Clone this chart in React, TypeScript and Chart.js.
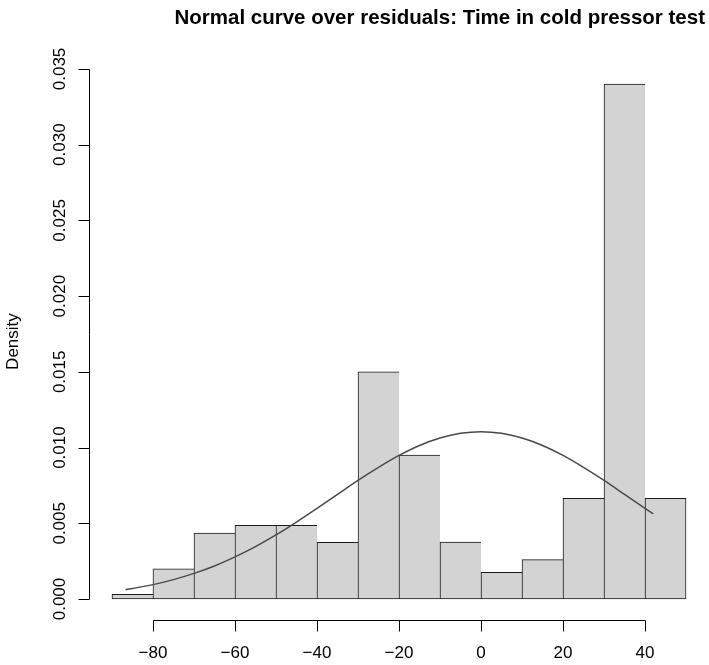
import React, { useEffect, useRef } from "react";
import { Chart, registerables } from "chart.js";

Chart.register(...registerables);

// Histogram bins (left edges), bin width 10
const binStarts = [-90, -80, -70, -60, -50, -40, -30, -20, -10, 0, 10, 20, 30, 40];
const densities = [0.00031, 0.002, 0.00436, 0.00487, 0.00487, 0.00374, 0.015, 0.00951, 0.00376, 0.00176, 0.0026, 0.00665, 0.034, 0.00665];
const binWidth = 10;

// Normal curve
const curveX = [-86.7, -85, -80, -75, -70, -65, -60, -55, -50, -45, -40, -35, -30, -25, -20, -15, -10, -5, 0, 5, 10, 15, 20, 25, 30, 35, 40, 42];
const curveY = [0.00062, 0.00069, 0.00095, 0.00128, 0.00169, 0.00218, 0.00278, 0.00346, 0.00423, 0.00508, 0.00598, 0.00691, 0.00783, 0.00869, 0.00948, 0.01014, 0.01063, 0.01094, 0.01105, 0.01094, 0.01063, 0.01014, 0.00948, 0.00869, 0.00783, 0.00691, 0.00598, 0.00562];

const xTicks = [-80, -60, -40, -20, 0, 20, 40];
const xTickLabels = ["\u221280", "\u221260", "\u221240", "\u221220", "0", "20", "40"];
const yTicks = [0, 0.005, 0.01, 0.015, 0.02, 0.025, 0.03, 0.035];
const yTickLabels = ["0.000", "0.005", "0.010", "0.015", "0.020", "0.025", "0.030", "0.035"];

const titleText = "Normal curve over residuals: Time in cold pressor test";
const yAxisTitle = "Density";

const FONT = '"Liberation Sans", Arial, sans-serif';

const rAxesPlugin = {
  id: "rAxes",
  afterDraw(chart: any) {
    const { ctx, scales, chartArea } = chart;
    const xs = scales.x;
    const ys = scales.y;
    ctx.save();
    ctx.strokeStyle = "#000";
    ctx.fillStyle = "#000";
    ctx.lineWidth = 1;

    // X axis
    const axY = Math.round(chartArea.bottom) + 0.5;
    const xa = Math.round(xs.getPixelForValue(xTicks[0])) + 0.5;
    const xb = Math.round(xs.getPixelForValue(xTicks[xTicks.length - 1])) + 0.5;
    ctx.beginPath();
    ctx.moveTo(xa, axY);
    ctx.lineTo(xb, axY);
    xTicks.forEach((v) => {
      const px = Math.round(xs.getPixelForValue(v)) + 0.5;
      ctx.moveTo(px, axY);
      ctx.lineTo(px, axY + 11);
    });
    ctx.stroke();
    ctx.font = `17px ${FONT}`;
    ctx.textAlign = "center";
    ctx.textBaseline = "alphabetic";
    xTicks.forEach((v, i) => {
      ctx.fillText(xTickLabels[i], xs.getPixelForValue(v), 658);
    });

    // Y axis
    const axX = Math.round(chartArea.left) + 0.5;
    const ya = Math.round(ys.getPixelForValue(yTicks[0])) + 0.5;
    const yb = Math.round(ys.getPixelForValue(yTicks[yTicks.length - 1])) + 0.5;
    ctx.beginPath();
    ctx.moveTo(axX, ya);
    ctx.lineTo(axX, yb);
    yTicks.forEach((v) => {
      const py = Math.round(ys.getPixelForValue(v)) + 0.5;
      ctx.moveTo(axX, py);
      ctx.lineTo(axX - 11, py);
    });
    ctx.stroke();
    yTicks.forEach((v, i) => {
      const py = ys.getPixelForValue(v);
      ctx.save();
      ctx.translate(64.5, py);
      ctx.rotate(-Math.PI / 2);
      ctx.textAlign = "center";
      ctx.textBaseline = "alphabetic";
      ctx.fillText(yTickLabels[i], 0, 0);
      ctx.restore();
    });

    // Y axis title
    ctx.save();
    ctx.translate(18, (chartArea.top + chartArea.bottom) / 2);
    ctx.rotate(-Math.PI / 2);
    ctx.textAlign = "center";
    ctx.textBaseline = "alphabetic";
    ctx.font = `17px ${FONT}`;
    ctx.fillText(yAxisTitle, 0, 0);
    ctx.restore();

    // Main title
    ctx.font = `bold 20.5px ${FONT}`;
    ctx.textAlign = "right";
    ctx.textBaseline = "alphabetic";
    ctx.fillText(titleText, 705, 24);

    ctx.restore();
  },
};

export default function App() {
  const canvasRef = useRef<HTMLCanvasElement | null>(null);

  useEffect(() => {
    document.body.style.margin = "0";
    const canvas = canvasRef.current;
    if (!canvas) return;
    const barData = binStarts.map((s, i) => ({ x: s + binWidth / 2, y: densities[i] }));
    const lineData = curveX.map((x, i) => ({ x, y: curveY[i] }));
    const last = binStarts.length - 1;

    const chart = new Chart(canvas, {
      type: "bar",
      data: {
        datasets: [
          {
            type: "bar",
            data: barData,
            backgroundColor: "#D3D3D3",
            borderColor: "#1a1a1a",
            borderWidth: (c: any) => ({ top: 1, bottom: 1, left: 1, right: c.dataIndex === last ? 1 : 0 }),
            borderSkipped: false,
            barPercentage: 1,
            categoryPercentage: 1,
            order: 2,
          } as any,
          {
            type: "line",
            data: lineData,
            borderColor: "#4a4a4a",
            borderWidth: 1.5,
            pointRadius: 0,
            tension: 0.3,
            fill: false,
            order: 1,
          } as any,
        ],
      },
      options: {
        responsive: false,
        animation: false,
        devicePixelRatio: 1,
        layout: { padding: { left: 89, top: 63.5, right: 0, bottom: 45.4 } },
        plugins: { legend: { display: false }, tooltip: { enabled: false }, title: { display: false } },
        scales: {
          x: { type: "linear", min: -95.6, max: 55.6, display: false, offset: false },
          y: { type: "linear", min: -0.00136, max: 0.03536, display: false },
        },
      },
      plugins: [rAxesPlugin],
    } as any);
    return () => chart.destroy();
  }, []);

  return (
    <div style={{ position: "absolute", left: 0, top: 0, width: 709, height: 665, background: "#fff" }}>
      <canvas ref={canvasRef} width={709} height={665} />
    </div>
  );
}
